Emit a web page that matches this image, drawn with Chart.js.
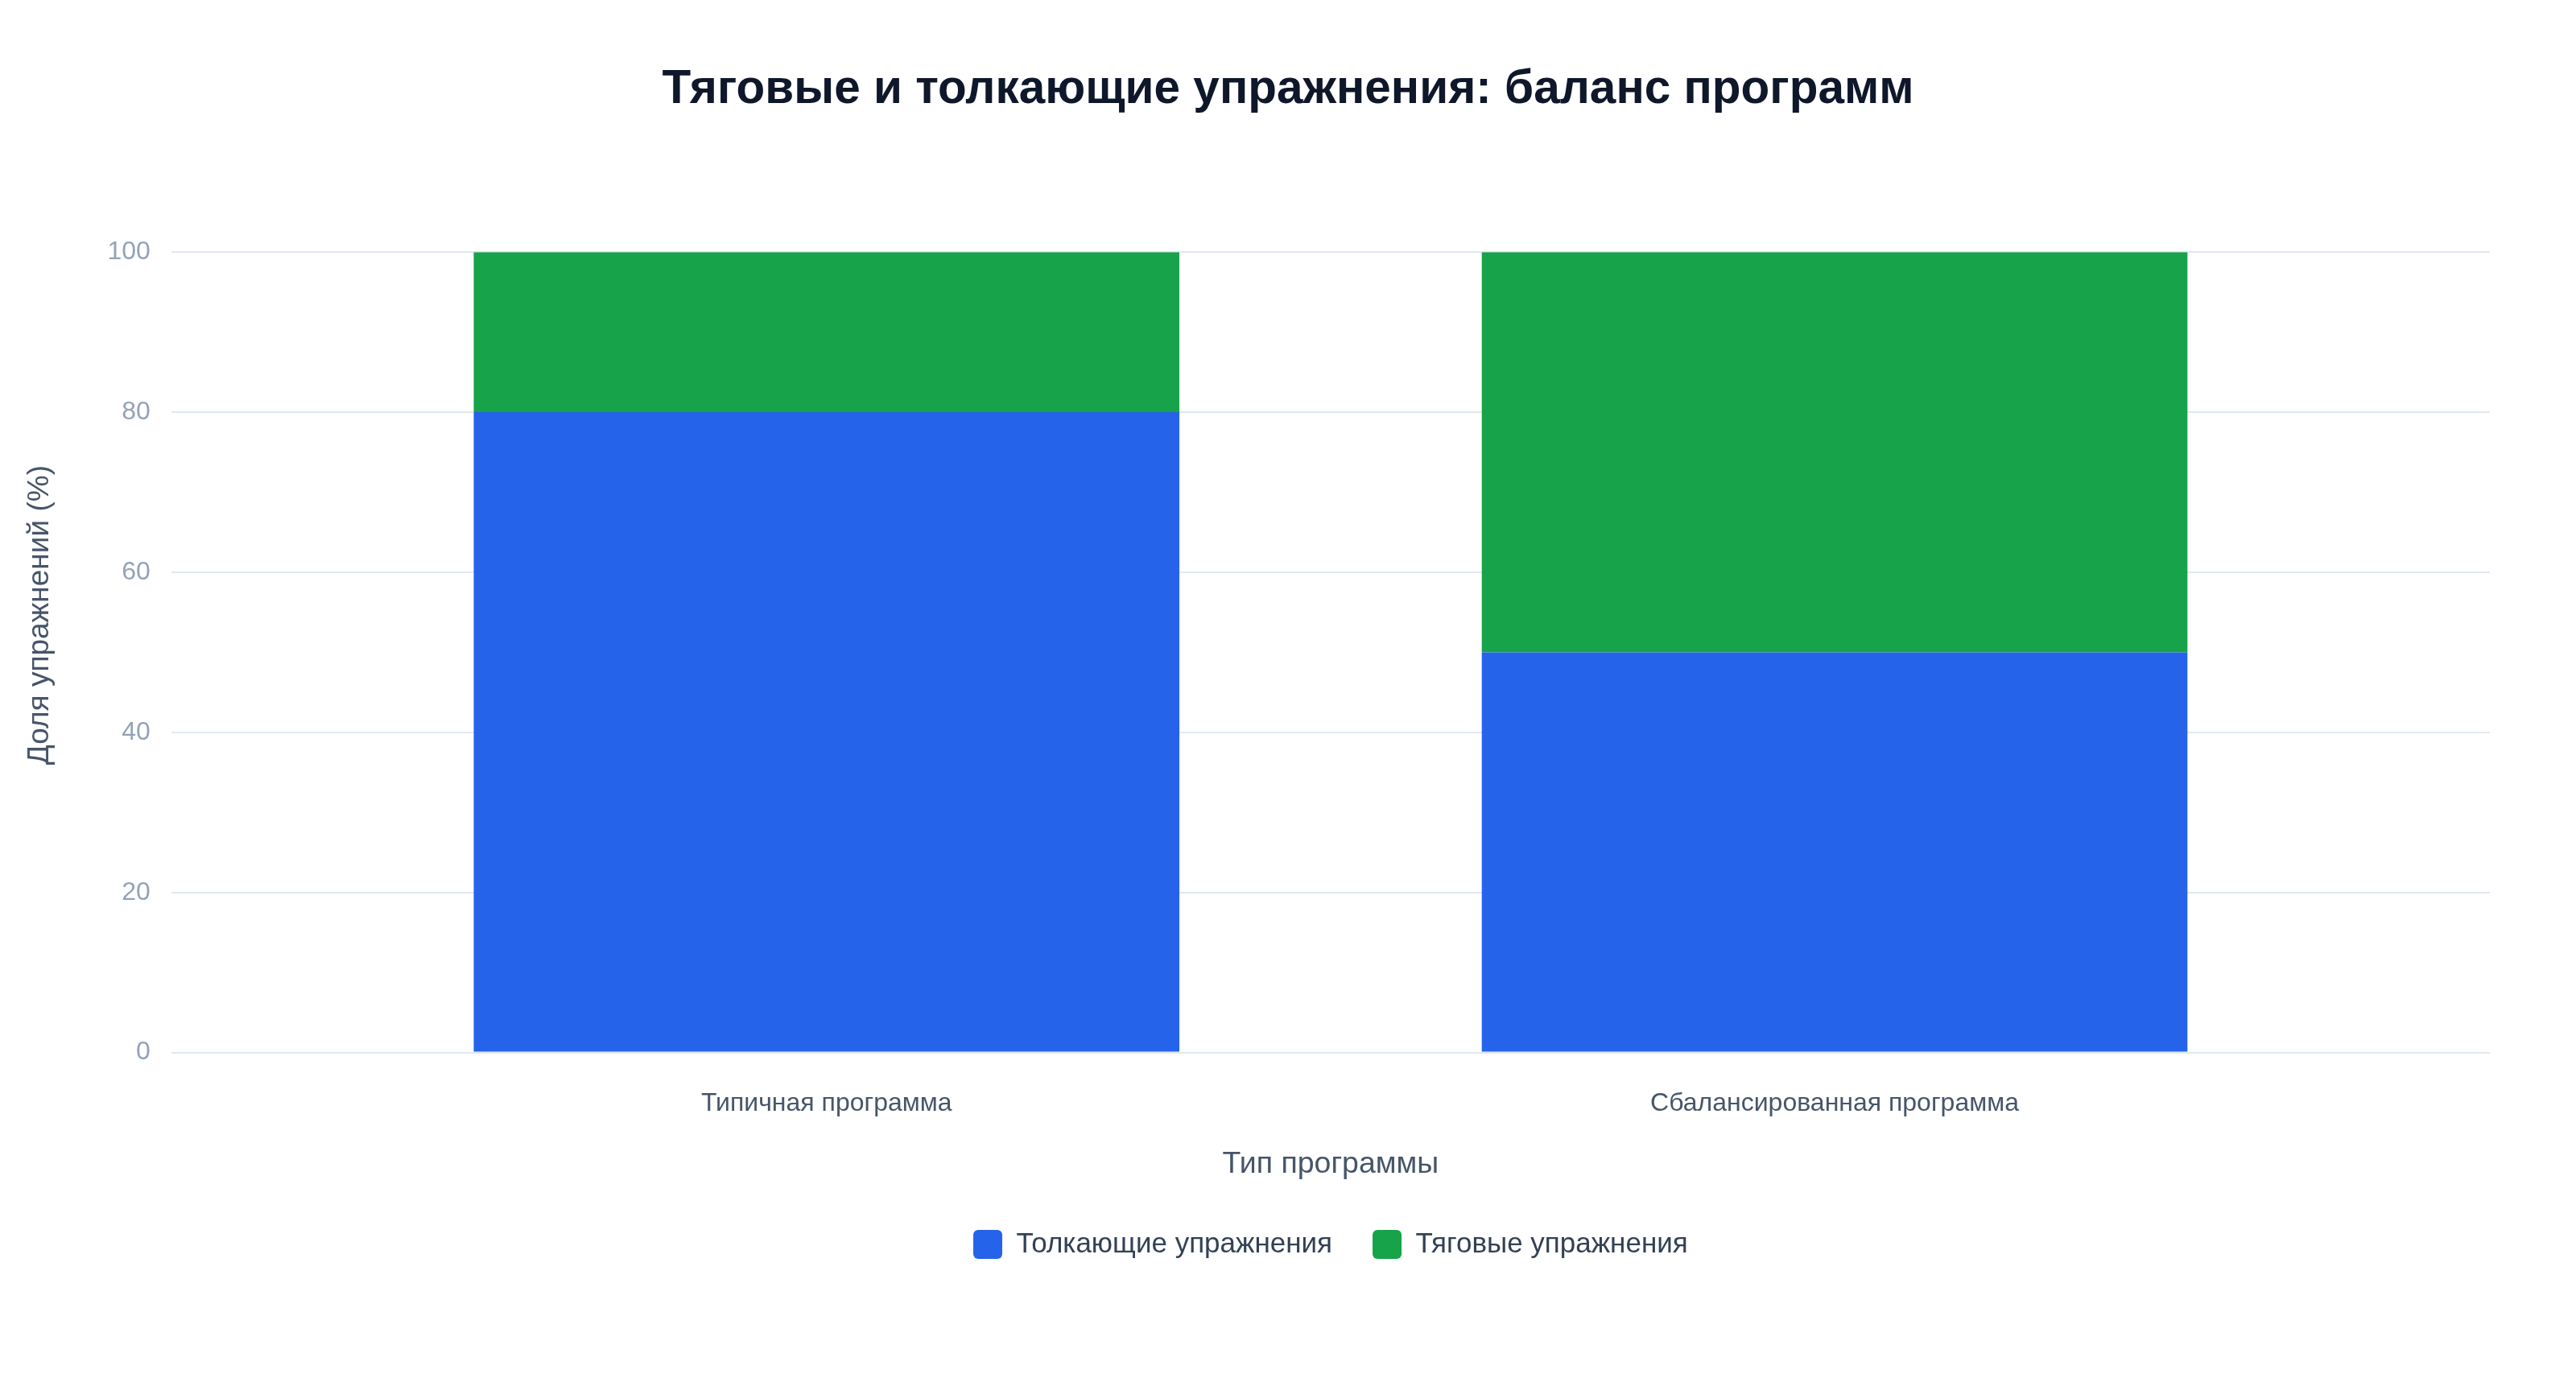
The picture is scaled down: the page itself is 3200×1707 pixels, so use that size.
<!DOCTYPE html>
<html lang="ru">
<head>
<meta charset="utf-8">
<title>Тяговые и толкающие упражнения</title>
<script src="https://cdn.jsdelivr.net/npm/chart.js@4.4.1/dist/chart.umd.min.js"></script>
<style>
    html, body { margin: 0; padding: 0; background: #ffffff; }
    #wrap { width: 100vw; height: 100vh; }
</style>
</head>
<body>
<div id="wrap"><canvas id="balanceChart"></canvas></div>
<script>
// Данные графика
const categories = ['Типичная программа', 'Сбалансированная программа'];
const pushValues = [80, 50];
const pullValues = [20, 50];
const seriesNames = ['Толкающие упражнения', 'Тяговые упражнения'];
const seriesColors = ['#2563eb', '#16a34a'];
const yTicks = [0, 20, 40, 60, 80, 100];

document.addEventListener('DOMContentLoaded', function() {
    const font = "'Liberation Sans', Arial, Helvetica, sans-serif";
    // точки по оси x — индексы категорий
    const toPoints = (arr) => arr.map((v, i) => ({ x: i, y: v }));
    const ctx = document.getElementById('balanceChart').getContext('2d');
    new Chart(ctx, {
        type: 'bar',
        data: {
            datasets: [
                {
                    label: seriesNames[0],
                    data: toPoints(pushValues),
                    backgroundColor: seriesColors[0],
                    borderWidth: 0
                },
                {
                    label: seriesNames[1],
                    data: toPoints(pullValues),
                    backgroundColor: seriesColors[1],
                    borderWidth: 0
                }
            ]
        },
        options: {
            responsive: true,
            maintainAspectRatio: false,
            animation: false,
            layout: {
                padding: { left: 28, right: 28, top: 40, bottom: 133 }
            },
            datasets: {
                bar: { categoryPercentage: 1, barPercentage: 0.7 }
            },
            plugins: {
                title: {
                    display: true,
                    text: 'Тяговые и толкающие упражнения: баланс программ',
                    color: '#0f172a',
                    font: { family: font, size: 58.5, weight: 'bold' },
                    padding: { top: 37, bottom: 166 }
                },
                legend: {
                    position: 'bottom',
                    fullSize: false,
                    labels: {
                        color: '#334155',
                        font: { family: font, size: 35 },
                        boxWidth: 36,
                        boxHeight: 36,
                        useBorderRadius: true,
                        borderRadius: 6,
                        padding: 50
                    }
                },
                tooltip: { enabled: false }
            },
            scales: {
                x: {
                    type: 'linear',
                    offset: false,
                    stacked: true,
                    min: -0.65,
                    max: 1.65,
                    grid: { display: false, drawTicks: false },
                    border: { display: false },
                    afterBuildTicks: (axis) => {
                        axis.ticks = categories.map((c, i) => ({ value: i }));
                    },
                    ticks: {
                        color: '#475569',
                        font: { family: font, size: 32 },
                        padding: 44,
                        callback: (v) => categories[v]
                    },
                    title: {
                        display: true,
                        text: 'Тип программы',
                        color: '#475569',
                        font: { family: font, size: 37.5 },
                        padding: { top: -10, bottom: 9 }
                    }
                },
                y: {
                    stacked: true,
                    min: 0,
                    max: 100,
                    grid: { color: '#e2e8f0', lineWidth: 2, drawTicks: false },
                    border: { display: false },
                    afterBuildTicks: (axis) => {
                        axis.ticks = yTicks.map((v) => ({ value: v }));
                    },
                    ticks: {
                        color: '#94a3b8',
                        font: { family: font, size: 32 },
                        padding: 26
                    },
                    title: {
                        display: true,
                        // подпись в оригинале немного выше центра оси
                        text: '\u00a0'.repeat(9) + 'Доля упражнений (%)',
                        color: '#475569',
                        font: { family: font, size: 37 },
                        padding: { top: 0, bottom: 35 }
                    }
                },
                // пустая правая ось — только отступ справа
                yRight: {
                    position: 'right',
                    grid: { display: false, drawTicks: false },
                    border: { display: false },
                    ticks: { display: false },
                    afterFit: (axis) => { axis.width = 79; }
                }
            }
        }
    });
});
</script>
</body>
</html>
